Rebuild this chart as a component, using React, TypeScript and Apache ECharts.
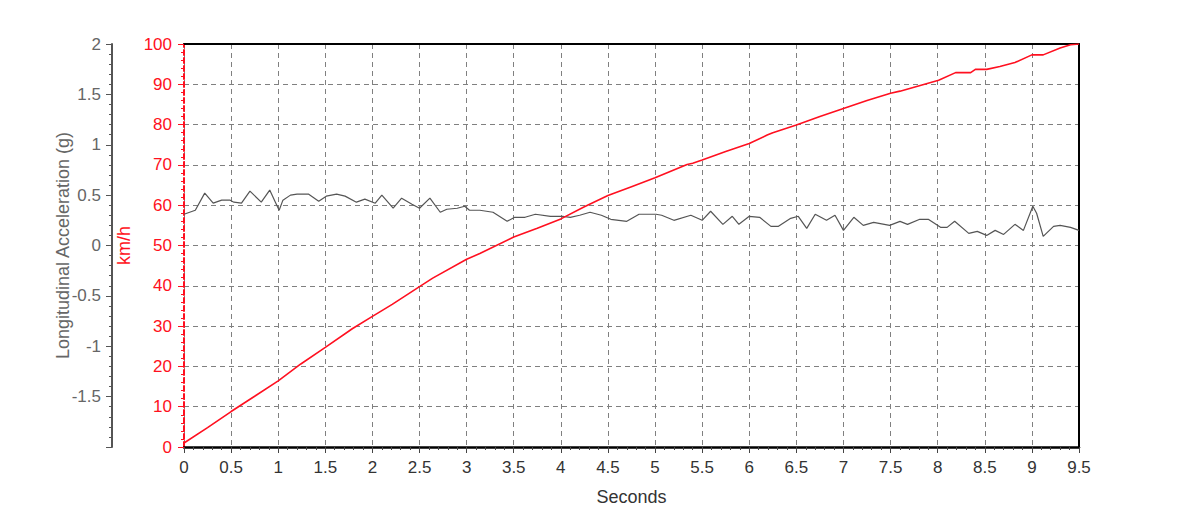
import React, { useEffect, useRef } from "react";
import * as echarts from "echarts";

const xTicks = [0, 0.5, 1, 1.5, 2, 2.5, 3, 3.5, 4, 4.5, 5, 5.5, 6, 6.5, 7, 7.5, 8, 8.5, 9, 9.5];

const speedTime = [0, 0.25, 0.5, 0.75, 1.0, 1.24, 1.5, 1.79, 2.0, 2.21, 2.5, 2.64, 3.0, 3.14, 3.5, 3.75, 4.0, 4.25, 4.5, 4.75, 5.0, 5.34, 5.4, 5.5, 5.75, 6.0, 6.19, 6.25, 6.5, 6.75, 7.0, 7.25, 7.5, 7.6, 8.01, 8.19, 8.35, 8.4, 8.52, 8.66, 8.82, 9.0, 9.12, 9.3, 9.41, 9.5];
const speedKmh = [1, 4.8, 8.8, 12.6, 16.4, 20.6, 24.7, 29.4, 32.4, 35.4, 39.8, 41.9, 46.6, 48.0, 52.1, 54.3, 56.6, 59.6, 62.4, 64.6, 66.8, 70.1, 70.4, 71.2, 73.3, 75.3, 77.4, 78.0, 79.9, 82.0, 84.0, 86.0, 87.8, 88.3, 91.0, 92.9, 92.9, 93.7, 93.7, 94.4, 95.4, 97.3, 97.3, 99.0, 99.8, 100];

const accelTime = [0, 0.12, 0.22, 0.31, 0.4, 0.49, 0.53, 0.61, 0.7, 0.82, 0.91, 0.97, 1.01, 1.05, 1.13, 1.2, 1.32, 1.43, 1.51, 1.62, 1.71, 1.83, 1.92, 2.03, 2.1, 2.22, 2.31, 2.42, 2.5, 2.61, 2.72, 2.79, 2.9, 2.98, 3.03, 3.14, 3.28, 3.43, 3.51, 3.62, 3.73, 3.89, 4.02, 4.1, 4.2, 4.31, 4.43, 4.53, 4.7, 4.83, 5.01, 5.07, 5.2, 5.38, 5.5, 5.59, 5.72, 5.82, 5.89, 6.0, 6.11, 6.23, 6.31, 6.44, 6.52, 6.61, 6.7, 6.82, 6.91, 7.0, 7.11, 7.21, 7.32, 7.49, 7.6, 7.68, 7.81, 7.9, 8.03, 8.1, 8.18, 8.33, 8.42, 8.52, 8.61, 8.7, 8.82, 8.91, 9.01, 9.05, 9.12, 9.23, 9.3, 9.41, 9.5];
const accelG = [0.31, 0.35, 0.52, 0.42, 0.45, 0.45, 0.43, 0.42, 0.54, 0.43, 0.55, 0.43, 0.35, 0.45, 0.5, 0.51, 0.51, 0.44, 0.49, 0.51, 0.49, 0.43, 0.46, 0.42, 0.5, 0.37, 0.47, 0.41, 0.37, 0.47, 0.33, 0.36, 0.37, 0.39, 0.35, 0.35, 0.33, 0.24, 0.28, 0.28, 0.31, 0.29, 0.29, 0.28, 0.3, 0.33, 0.3, 0.26, 0.24, 0.31, 0.31, 0.3, 0.25, 0.3, 0.25, 0.34, 0.21, 0.29, 0.21, 0.29, 0.28, 0.19, 0.19, 0.27, 0.29, 0.17, 0.31, 0.25, 0.3, 0.15, 0.28, 0.2, 0.23, 0.2, 0.24, 0.21, 0.26, 0.26, 0.18, 0.18, 0.24, 0.12, 0.14, 0.1, 0.15, 0.11, 0.21, 0.15, 0.39, 0.32, 0.09, 0.19, 0.2, 0.18, 0.15];

const FONT = "'Liberation Sans', Arial, sans-serif";
const RED = "#ff1020";

export default function App() {
  const ref = useRef<HTMLDivElement>(null);
  useEffect(() => {
    if (!ref.current) return;
    const chart = echarts.init(ref.current, null, { renderer: "svg" });
    const speedData = speedTime.map((t, i) => [t, speedKmh[i]]);
    const accelData = accelTime.map((t, i) => [t, accelG[i]]);
    chart.setOption({
      animation: false,
      backgroundColor: "#fff",
      textStyle: { fontFamily: FONT },
      grid: { left: 184, right: 121, top: 44, bottom: 80, containLabel: false },
      xAxis: [
        {
          type: "value",
          min: 0,
          max: 9.5,
          interval: 0.5,
          name: "Seconds",
          nameLocation: "middle",
          nameGap: 41,
          nameTextStyle: { color: "#333", fontSize: 18, fontFamily: FONT },
          axisLine: { onZero: false, lineStyle: { color: "#000", width: 2.5 } },
          axisTick: { show: true, length: 6, lineStyle: { color: "#444" } },
          minorTick: { show: true, splitNumber: 5, length: 3, lineStyle: { color: "#444" } },
          axisLabel: {
            color: "#333",
            fontSize: 17,
            margin: 12,
            fontFamily: FONT,
            formatter: (v: number) => (xTicks.includes(v) ? String(v) : ""),
          },
          splitLine: { show: true, lineStyle: { color: "#808080", type: [5, 4], width: 1 } },
        },
        {
          type: "value",
          position: "top",
          min: 0,
          max: 9.5,
          axisLine: { show: true, onZero: false, lineStyle: { color: "#000", width: 2 } },
          axisTick: { show: false },
          axisLabel: { show: false },
          splitLine: { show: false },
        },
      ],
      yAxis: [
        {
          type: "value",
          position: "left",
          min: 0,
          max: 100,
          interval: 10,
          name: "km/h",
          nameLocation: "middle",
          nameGap: 50,
          nameRotate: 90,
          nameTextStyle: { color: RED, fontSize: 18, fontFamily: FONT },
          axisLine: { show: true, onZero: false, lineStyle: { color: RED, width: 2, type: [5, 3] } },
          axisTick: { show: true, length: 6, lineStyle: { color: RED, width: 1 } },
          minorTick: { show: true, splitNumber: 5, length: 3, lineStyle: { color: RED } },
          axisLabel: { color: RED, fontSize: 17, margin: 12, fontFamily: FONT },
          splitLine: { show: true, lineStyle: { color: "#808080", type: [5, 4], width: 1 } },
        },
        {
          type: "value",
          position: "left",
          offset: 72,
          min: -2,
          max: 2,
          interval: 0.5,
          name: "Longitudinal Acceleration (g)",
          nameLocation: "middle",
          nameGap: 40,
          nameMoveOverlap: false,
          nameRotate: 90,
          nameTextStyle: { color: "#666", fontSize: 18, fontFamily: FONT },
          axisLine: { show: true, onZero: false, lineStyle: { color: "#555", width: 2 } },
          axisTick: { show: true, length: 6, lineStyle: { color: "#555" } },
          minorTick: { show: true, splitNumber: 5, length: 3, lineStyle: { color: "#555" } },
          axisLabel: {
            color: "#666",
            fontSize: 17,
            margin: 11,
            fontFamily: FONT,
            formatter: (v: number) => (v === -2 ? "" : String(v)),
          },
          splitLine: { show: false },
        },
        {
          type: "value",
          position: "right",
          min: 0,
          max: 1,
          axisLine: { show: true, onZero: false, lineStyle: { color: "#000", width: 2 } },
          axisTick: { show: false },
          axisLabel: { show: false },
          splitLine: { show: false },
        },
      ],
      series: [
        {
          type: "line",
          xAxisIndex: 0,
          yAxisIndex: 1,
          data: accelData,
          showSymbol: false,
          symbol: "none",
          lineStyle: { color: "#555", width: 1.2 },
          z: 3,
        },
        {
          type: "line",
          xAxisIndex: 0,
          yAxisIndex: 0,
          data: speedData,
          showSymbol: false,
          symbol: "none",
          lineStyle: { color: RED, width: 1.6 },
          z: 4,
        },
      ],
    });
    return () => chart.dispose();
  }, []);
  return (
    <div
      ref={ref}
      style={{ position: "fixed", left: 0, top: 0, width: 1200, height: 527 }}
    />
  );
}
